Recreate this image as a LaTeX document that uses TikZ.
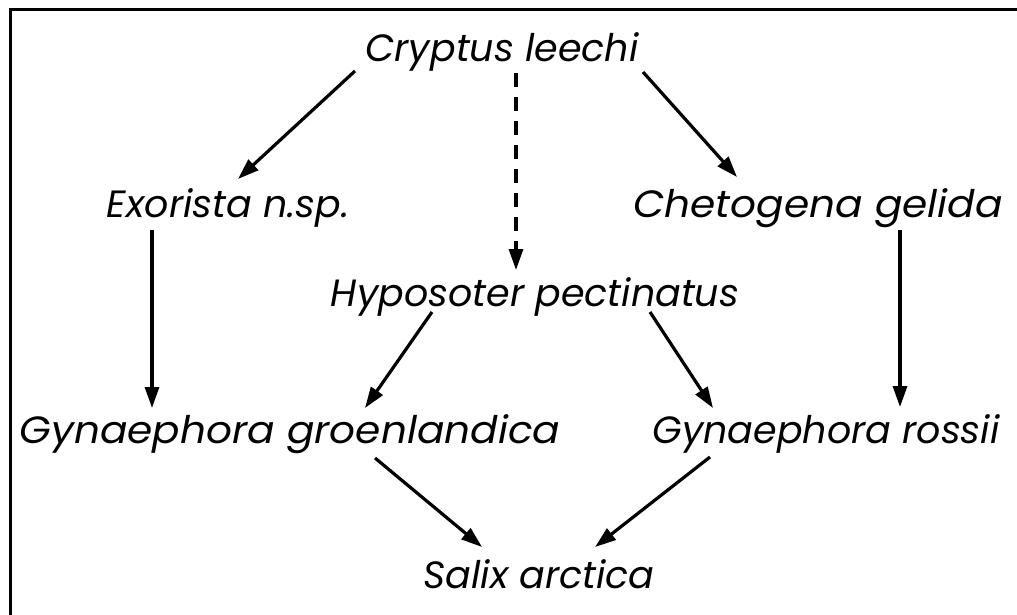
\documentclass[tikz,border=0pt]{standalone}
\usepackage{fontspec}
\setmainfont{Poppins}
\usetikzlibrary{arrows.meta}
\begin{document}
\begin{tikzpicture}[x=1pt,y=-1pt,
  lbl/.style={font=\fontsize{38}{42}\selectfont\itshape, inner sep=0pt, anchor=base},
  arr/.style={line width=3.2pt, -{Triangle[length=21pt,width=14pt]}},
  darr/.style={arr, dash pattern=on 14pt off 10pt}]
\useasboundingbox (0,0) rectangle (1017,615);
\draw[line width=3pt] (1017,10) -- (10,10) -- (10,615);
\node[lbl] (cry) at (502,62) {Cryptus leechi};
\node[lbl] (exo) at (228,217) {Exorista n.sp.};
\node[lbl] (che) at (818,217) {\scalebox{1.07}[1]{Chetogena gelida}};
\node[lbl] (hyp) at (535,306) {Hyposoter pectinatus};
\node[lbl] (gyg) at (290,443) {\scalebox{1.07}[1]{Gynaephora groenlandica}};
\node[lbl] (gyr) at (826,443) {Gynaephora rossii};
\node[lbl] (sal) at (539,588) {Salix arctica};
\draw[arr] ([shift={(-147,9)}]cry.base) -- ([shift={(10,-38)}]exo.base);
\draw[arr] ([shift={(141,10)}]cry.base) -- ([shift={(-81,-40)}]che.base);
\draw[darr] ([shift={(14,11)}]cry.base) -- ([shift={(-19,-36)}]hyp.base);
\draw[arr] ([shift={(-76,13)}]exo.base) -- ([shift={(-138,-35)}]gyg.base);
\draw[arr] ([shift={(82,13)}]che.base) -- ([shift={(74,-36)}]gyr.base);
\draw[arr] ([shift={(-103,6)}]hyp.base) -- ([shift={(75,-35)}]gyg.base);
\draw[arr] ([shift={(115,6)}]hyp.base) -- ([shift={(-113,-35)}]gyr.base);
\draw[arr] ([shift={(85,15)}]gyg.base) -- ([shift={(-57,-41)}]sal.base);
\draw[arr] ([shift={(-116,14)}]gyr.base) -- ([shift={(56,-41)}]sal.base);
\end{tikzpicture}
\end{document}
